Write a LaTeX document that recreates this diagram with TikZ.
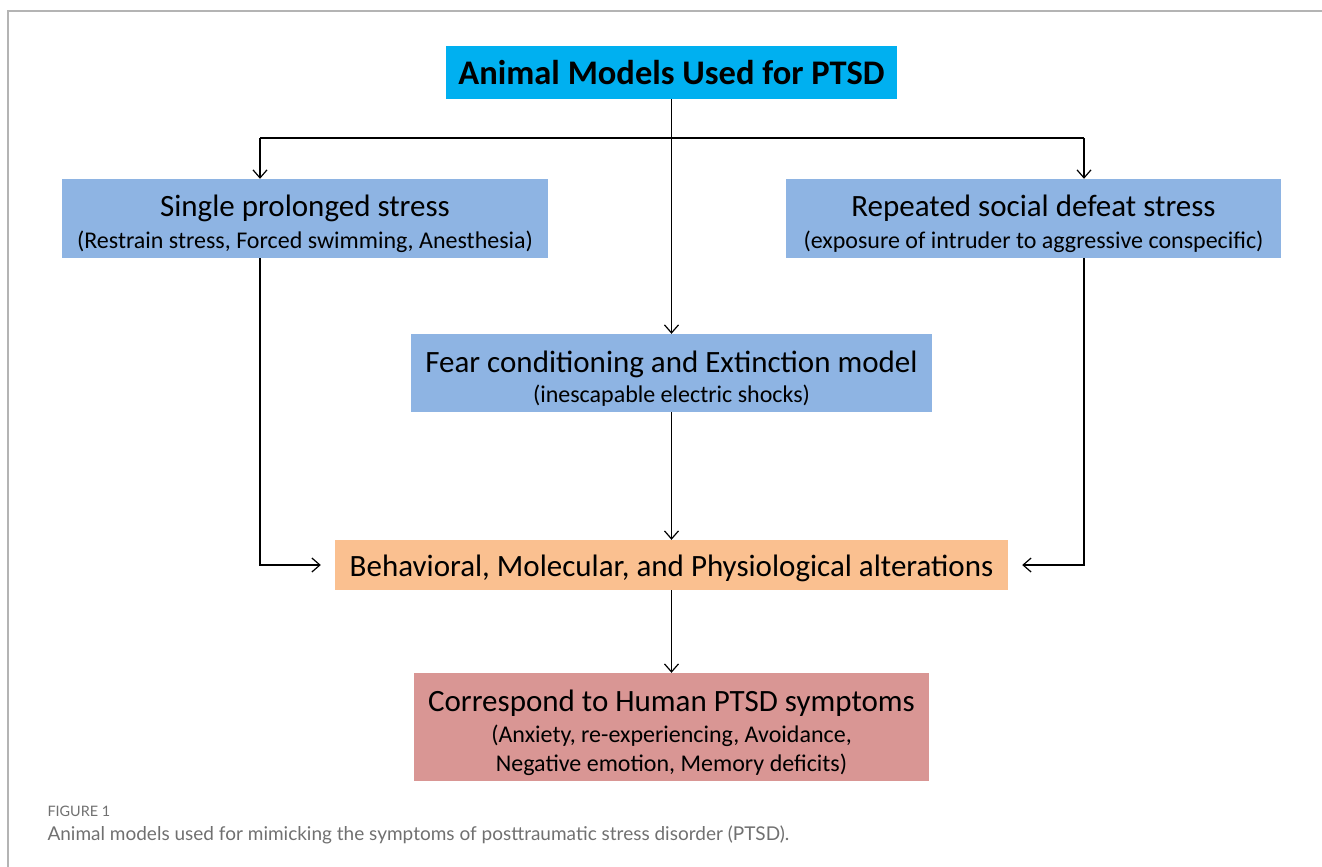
\documentclass[tikz,border=0pt]{standalone}
\usepackage{fontspec}
\setmainfont{Carlito}
\newfontfamily\capfont{Lato}
\usetikzlibrary{positioning,arrows.meta}
\definecolor{titlecyan}{HTML}{00B0F0}
\definecolor{modelblue}{HTML}{8EB4E3}
\definecolor{altorange}{HTML}{FAC090}
\definecolor{humanred}{HTML}{D99694}
\definecolor{framegray}{HTML}{B4B4B4}
\definecolor{capgray}{HTML}{707070}
\newcommand{\toppad}[1]{\rule{0pt}{#1}}

\begin{document}
\begin{tikzpicture}[x=1pt, y=-1pt,
  box/.style = {inner sep=0pt, align=center, font=\fontsize{24}{34}\selectfont},
  big/.style = {font=\fontsize{31}{34}\selectfont},
  arr/.style = {line width=1.2pt, -{Straight Barb[length=8pt, width=14pt, line width=1.2pt]}},
  link/.style = {line width=1.2pt}]
			\useasboundingbox (0,0) rectangle (1322,867);
			\draw[framegray, line width=1.5pt] (8,867) -- (8,11) -- (1322,11);
			\node[box, fill=titlecyan, minimum width=451pt, minimum height=53pt, font=\fontsize{34.5}{40}\selectfont\bfseries] (title) at (671.5,72.5) {Animal Models Used for PTSD};
			\node[box, fill=modelblue, minimum width=486pt, minimum height=79pt] (single) at (305,218.5) {{\fontsize{31}{34}\selectfont\toppad{32pt}Single prolonged stress}\\[-2pt](Restrain stress, Forced swimming, Anesthesia)};
			\node[box, fill=modelblue, minimum width=495pt, minimum height=79pt] (social) at (1033.5,218.5) {{\fontsize{31}{34}\selectfont\toppad{32pt}Repeated social defeat stress}\\[-2pt](exposure of intruder to aggressive conspecific)};
			\node[box, fill=modelblue, minimum width=521pt, minimum height=78pt] (fear) at (671.5,373) {{\fontsize{31}{34}\selectfont\toppad{32pt}Fear conditioning and Extinction model}\\[-4pt](inescapable electric shocks)};
			\node[box, big, fill=altorange, minimum width=673pt, minimum height=50pt] (alter) at (671.5,565) {\toppad{28pt}Behavioral, Molecular, and Physiological alterations};
			\node[box, fill=humanred, minimum width=515pt, minimum height=108pt] (human) at (671.5,727) {{\fontsize{31}{34}\selectfont\toppad{33pt}Correspond to Human PTSD symptoms}\\[-3pt](Anxiety, re-experiencing, Avoidance,\\[-5pt]Negative emotion, Memory deficits)};
			\coordinate (lbranch) at (260,138);
			\coordinate (rbranch) at (1084,138);
			\draw[arr] (title) -- (fear);
			\draw[link] (lbranch) -- (rbranch);
			\draw[arr] (lbranch) -- (lbranch |- single.north);
			\draw[arr] (rbranch) -- (rbranch |- social.north);
			\draw[arr] (lbranch |- single.south) |- ([xshift=-14pt]alter.west);
			\draw[arr] (rbranch |- social.south) |- ([xshift=14pt]alter.east);
			\draw[arr] (fear) -- (alter);
			\draw[arr] (alter) -- (human);
			\node[anchor=base west, text=capgray, font=\capfont\fontsize{14.4}{16}\selectfont] (fignum) at (44,816) {FIGURE 1};
			\node[anchor=base west, text=capgray, font=\capfont\fontsize{19}{22}\selectfont] (caption) at (44,840) {Animal models used for mimicking the symptoms of posttraumatic stress disorder (PTSD).};
		\end{tikzpicture}
\end{document}
